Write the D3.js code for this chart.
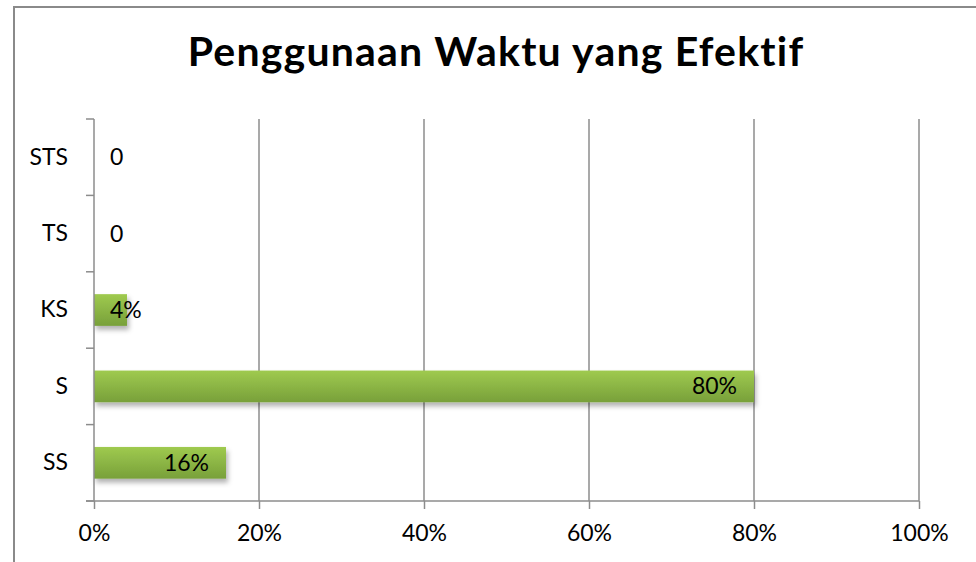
<!DOCTYPE html>
<html>
<head>
<meta charset="utf-8">
<script src="https://cdn.jsdelivr.net/npm/d3@7/dist/d3.min.js"></script>
<style>
  html, body { margin: 0; padding: 0; background: #fff; }
  svg { display: block; }
  text { font-family: Lato, "Open Sans", sans-serif; fill: #000; }
</style>
</head>
<body>
<svg id="chart" width="976" height="562"></svg>
<script>
const categories = ["STS", "TS", "KS", "S", "SS"];
const values = [0, 0, 0.04, 0.80, 0.16];
const labels = ["0", "0", "4%", "80%", "16%"];
const xTicks = [0, 0.2, 0.4, 0.6, 0.8, 1.0];
const title = "Penggunaan Waktu yang Efektif";

const svg = d3.select("#chart");
const W = 976, H = 562;
const m = { left: 94, right: 57, top: 119, bottom: 61 };
const FS = 23;

const defs = svg.append("defs");
const grad = defs.append("linearGradient").attr("id", "barGrad")
  .attr("x1", 0).attr("y1", 0).attr("x2", 0).attr("y2", 1);
grad.append("stop").attr("offset", "0%").attr("stop-color", "#9fca4f");
grad.append("stop").attr("offset", "100%").attr("stop-color", "#78a03a");
const f = defs.append("filter").attr("id", "shadow")
  .attr("x", "-10%").attr("y", "-30%").attr("width", "130%").attr("height", "180%");
f.append("feDropShadow").attr("dx", 2).attr("dy", 4).attr("stdDeviation", 2.5)
  .attr("flood-color", "#000").attr("flood-opacity", 0.3);

// outer chart border
svg.append("rect").attr("x", 14).attr("y", 7).attr("width", W).attr("height", H)
  .attr("fill", "#fff").attr("stroke", "#8a8a8a").attr("stroke-width", 2);

svg.append("text").attr("x", 496).attr("y", 66).attr("text-anchor", "middle")
  .attr("font-size", 41).attr("font-weight", "bold").attr("letter-spacing", 1.2)
  .text(title);

const x = d3.scaleLinear().domain([0, 1]).range([m.left, W - m.right]);
const y = d3.scaleBand().domain(categories).range([m.top, H - m.bottom])
  .paddingInner(0.585).paddingOuter(0.2925);

// gridlines
svg.append("g").selectAll("line").data(xTicks.slice(1)).join("line")
  .attr("x1", d => x(d)).attr("x2", d => x(d))
  .attr("y1", m.top).attr("y2", H - m.bottom)
  .attr("stroke", "#8c8c8c").attr("stroke-width", 1.5);

// bars
svg.append("g").selectAll("rect").data(values.map((v, i) => ({ v, c: categories[i] })))
  .join("rect")
  .attr("x", x(0)).attr("y", d => y(d.c))
  .attr("width", d => x(d.v) - x(0)).attr("height", y.bandwidth())
  .attr("fill", "url(#barGrad)")
  .attr("filter", d => d.v > 0 ? "url(#shadow)" : null);

// x axis
const xAxis = svg.append("g").attr("transform", `translate(0,${H - m.bottom})`)
  .call(d3.axisBottom(x).tickValues(xTicks).tickFormat(d3.format(".0%")).tickSize(8).tickPadding(16));
xAxis.select(".domain").attr("stroke", "#8c8c8c").attr("stroke-width", 1.5)
  .attr("d", `M${x(0) - 8},0H${x(1)}`);
xAxis.selectAll(".tick line").attr("stroke", "#8c8c8c").attr("stroke-width", 1.5);
xAxis.selectAll(".tick text").attr("font-size", FS).attr("font-family", "Lato, sans-serif").attr("fill", "#000");

// y axis
const yAxis = svg.append("g").attr("transform", `translate(${m.left},0)`)
  .call(d3.axisLeft(y).tickSize(0).tickPadding(26));
yAxis.select(".domain").attr("stroke", "#8c8c8c").attr("stroke-width", 1.5)
  .attr("d", `M0,${m.top}V${H - m.bottom}`);
yAxis.selectAll(".tick text").attr("font-size", FS).attr("font-family", "Lato, sans-serif").attr("fill", "#000");
// category boundary ticks
const bounds = d3.range(categories.length + 1).map(i => m.top + i * (H - m.top - m.bottom) / categories.length);
svg.append("g").selectAll("line").data(bounds).join("line")
  .attr("x1", m.left - 8).attr("x2", m.left)
  .attr("y1", d => d).attr("y2", d => d)
  .attr("stroke", "#8c8c8c").attr("stroke-width", 1.5);

// data labels
const lg = svg.append("g");
values.forEach((v, i) => {
  const t = lg.append("text").attr("font-size", FS)
    .attr("y", y(categories[i]) + y.bandwidth() / 2).attr("dy", "0.35em")
    .text(labels[i]);
  const w = t.node().getComputedTextLength();
  let xs = x(v) - 17 - w;
  if (xs < x(0) + 16) xs = x(0) + 16;
  t.attr("x", xs);
});
</script>
</body>
</html>
